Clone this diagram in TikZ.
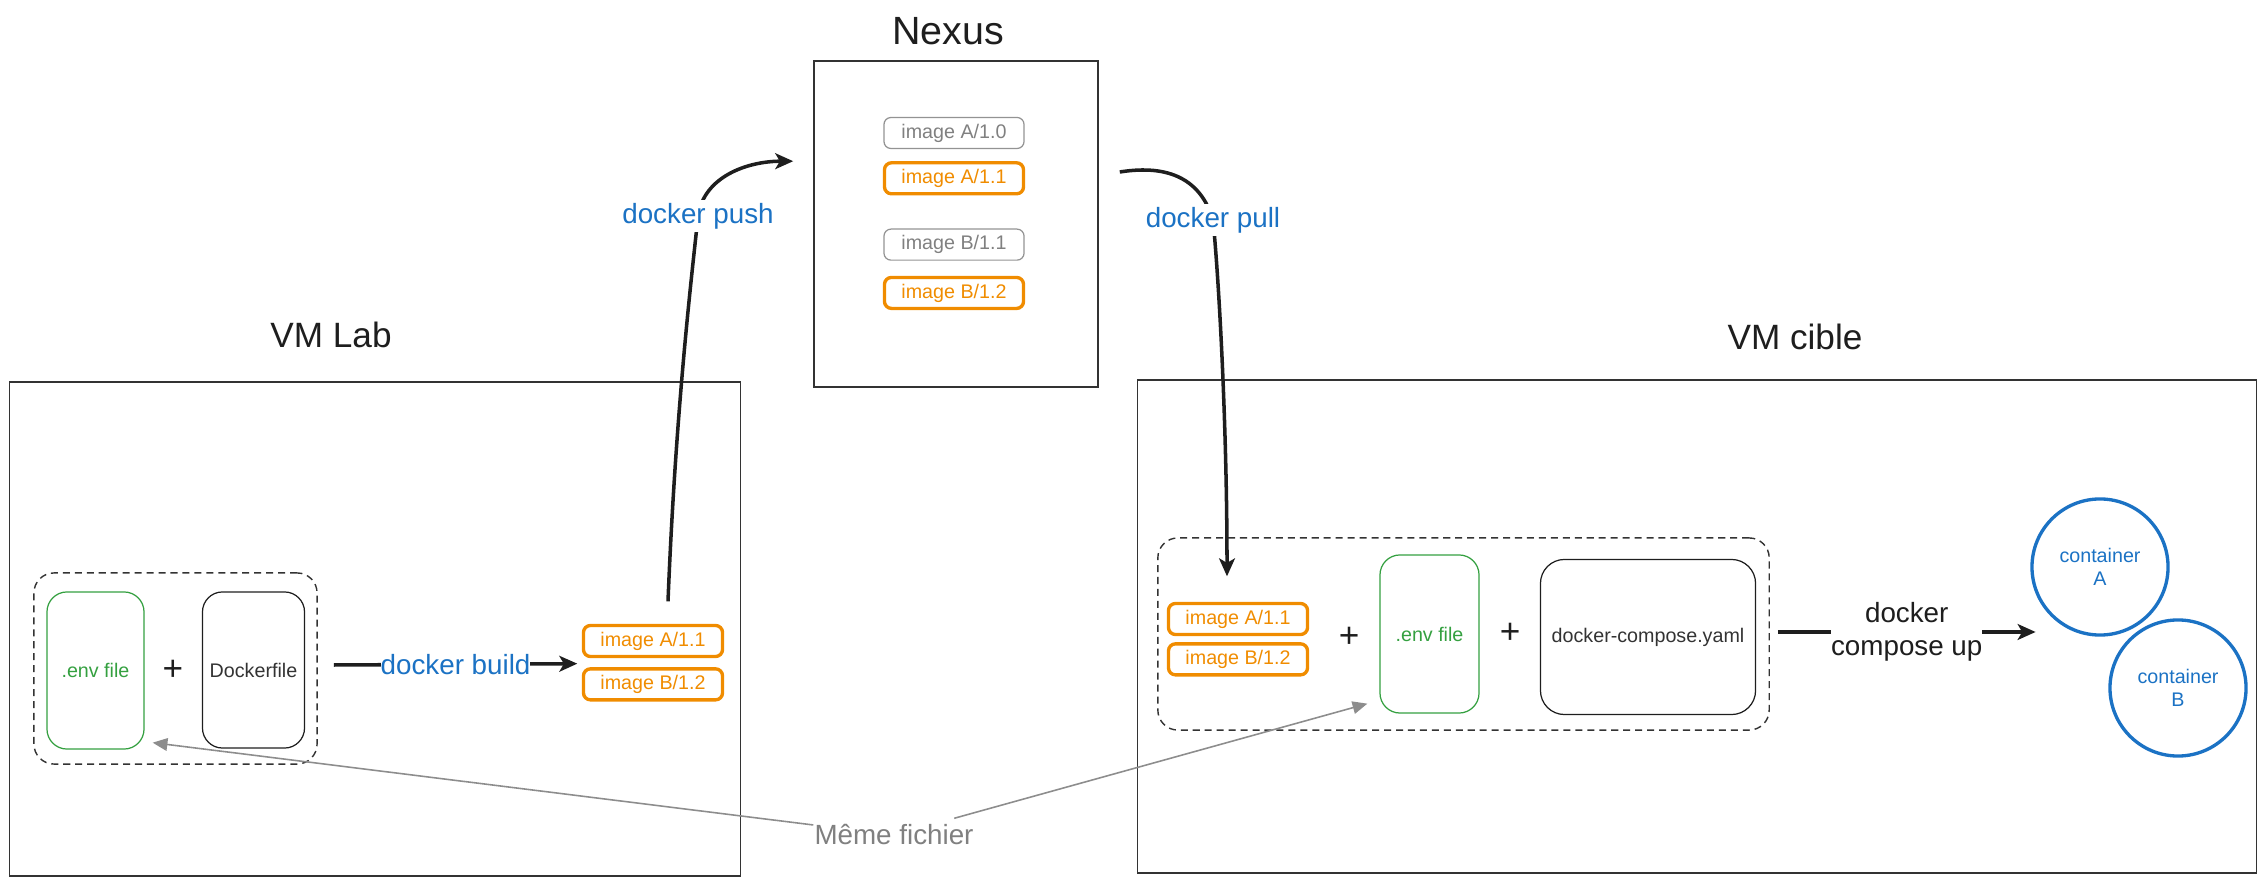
\documentclass[tikz,border=0pt]{standalone}
\usepackage{fontspec}
\setmainfont{Liberation Sans}
\usetikzlibrary{arrows.meta,positioning,calc,shapes}
\definecolor{vmframe}{RGB}{51,51,51}
\definecolor{imgorange}{RGB}{240,140,0}
\definecolor{cmdblue}{RGB}{27,114,196}
\definecolor{envgreen}{RGB}{52,160,64}
\definecolor{oldgray}{RGB}{128,128,128}
\definecolor{inkblack}{RGB}{30,30,30}

\begin{document}
\begin{tikzpicture}[
    x=0.01cm, y=-0.01cm,
    vmbox/.style={rectangle, draw=vmframe, line width=0.4pt, inner sep=0pt},
    vmtitle/.style={font=\fontsize{10}{12}\selectfont, text=inkblack},
    bundle/.style={rectangle, draw=vmframe, dash pattern=on 2pt off 1.4pt, line width=0.4pt, rounded corners=0.2cm, inner sep=0pt},
    filebox/.style={rectangle, draw=inkblack, line width=0.35pt, rounded corners=0.2cm, minimum width=1.02cm, minimum height=1.56cm, text=vmframe, font=\fontsize{5.6}{6.7}\selectfont, inner sep=0pt},
    envbox/.style={filebox, draw=envgreen, text=envgreen, minimum width=0.97cm, minimum height=1.57cm},
    imgbox/.style={rectangle, draw=imgorange, line width=0.95pt, rounded corners=0.07cm, text=imgorange, minimum width=1.39cm, minimum height=0.31cm, font=\fontsize{5.6}{6.7}\selectfont, inner sep=0pt},
    oldimage/.style={imgbox, draw=oldgray!85, line width=0.35pt, text=oldgray, minimum width=1.4cm},
    plussign/.style={font=\fontsize{10}{12}\selectfont, text=inkblack, inner sep=0pt},
    flow/.style={-{Stealth[length=5.1pt, width=4.5pt, inset=1.3pt]}, line width=1pt, draw=inkblack},
    cmd/.style={fill=white, text=cmdblue, font=\fontsize{7.9}{9.4}\selectfont, inner sep=1pt},
    container/.style={circle, draw=cmdblue, line width=0.95pt, minimum size=1.36cm, inner sep=0pt, align=center, text=cmdblue, font=\fontsize{5.6}{6.6}\selectfont},
    samelink/.style={-{Triangle[length=4.2pt, width=3.6pt]}, line width=0.45pt, draw=oldgray!90}
]
\useasboundingbox (0,0) rectangle (2261,886);

% VM frames
\node[vmbox, minimum width=7.3cm, minimum height=4.94cm] (lab) at (375,629) {};
\node[vmtitle] (labtitle) at (331,335) {VM Lab};
\node[vmbox, minimum width=2.84cm, minimum height=3.26cm] (nexus) at (956,224) {};
\node[vmtitle, font=\fontsize{11.2}{13}\selectfont] (nexustitle) at (948,31) {Nexus};
\node[vmbox, minimum width=11.18cm, minimum height=4.93cm] (cible) at (1697,626.5) {};
\node[vmtitle] (cibletitle) at (1795,337) {VM cible};

% VM Lab content
\node[bundle, minimum width=2.83cm, minimum height=1.91cm] (labfiles) at (175.5,668.5) {};
\node[envbox] (labenv) at (95.5,670.5) {.env file};
\node[plussign] (labplus) at (173,670) {+};
\node[filebox] (dockerfile) at (253.5,670) {Dockerfile};
\node[imgbox] (labA) at (653,641) {image A/1.1};
\node[imgbox, below=0.09cm of labA] (labB) {image B/1.2};

% Nexus content
\node[oldimage] (nexA0) at (954,133) {image A/1.0};
\node[imgbox, below=0.12cm of nexA0] (nexA1) {image A/1.1};
\node[oldimage, below=0.33cm of nexA1] (nexB1) {image B/1.1};
\node[imgbox, below=0.15cm of nexB1] (nexB2) {image B/1.2};

% VM cible content
\node[bundle, minimum width=6.11cm, minimum height=1.92cm] (cibfiles) at (1463.5,634) {};
\node[imgbox] (cibA) at (1238,619) {image A/1.1};
\node[imgbox, below=0.06cm of cibA] (cibB) {image B/1.2};
\node[plussign] (cibplus1) at (1349,637) {+};
\node[envbox, minimum width=0.99cm, minimum height=1.58cm] (cibenv) at (1429.5,634) {.env file};
\node[plussign] (cibplus2) at (1510,633) {+};
\node[filebox, minimum width=2.15cm, minimum height=1.55cm, rounded corners=0.24cm] (compose) at (1648,637) {docker-compose.yaml};

% Containers
\node[container] (contA) at (2100,567) {container\\A};
\node[container] (contB) at (2178,688) {container\\B};

% Arrows
\draw[flow] ($(labfiles.east)+(16,-3.5)$) -- node[cmd, inner xsep=0pt] (build) {docker build} ($(labA.south west)+(-4.5,5.5)$);
\draw[flow] ($(labA.north)+(15,-22.5)$) .. controls +(8,-200) and +(-5,50) .. (698,216) node[cmd] (push) {docker push}
    .. controls +(6,-40) and +(-45,0) .. ($(nexus.north west)+(-20,101)$);
\draw[flow] ($(nexus.east)+(21,-52)$) .. controls +(50,-8) and +(-12,-40) .. (1213,220) node[cmd] (pull) {docker pull}
    .. controls +(6,60) and +(0,-150) .. ($(cibA.north)+(-11,-25.5)$);
\draw[flow] ($(cibfiles.east)+(8,-2)$) -- node[cmd, text=inkblack, align=center, inner sep=0pt] (composeup) {docker\\compose up} ($(contA.west)+(5.3,65)$);

% Same .env file on both VMs
\node[text=oldgray, font=\fontsize{7.9}{9.4}\selectfont, minimum width=1.6cm, minimum height=0.32cm, inner sep=0pt] (samefile) at (894,835) {Même fichier};
\draw[samelink] (samefile) -- ($(labenv.south east)+(8,-7)$);
\draw[samelink] (samefile) -- ($(cibenv.south west)+(-12,-10)$);

\end{tikzpicture}
\end{document}
